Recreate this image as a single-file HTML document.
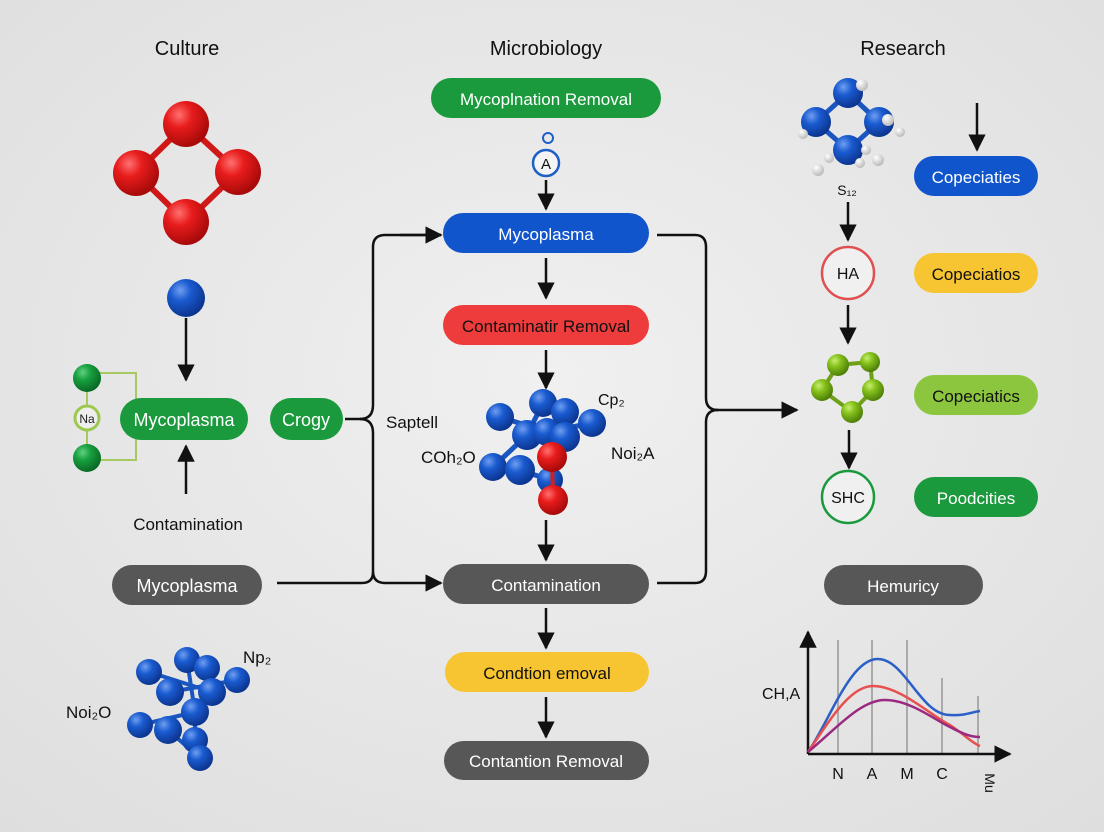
<!DOCTYPE html>
<html><head><meta charset="utf-8"><style>
html,body{margin:0;padding:0;background:#ebebeb;}
svg{display:block;}
text{font-family:"Liberation Sans","DejaVu Sans",sans-serif;}
</style></head><body>
<svg width="1104" height="832" viewBox="0 0 1104 832" xmlns="http://www.w3.org/2000/svg">
<defs>
<radialGradient id="bg" cx="50%" cy="45%" r="75%"><stop offset="0" stop-color="#f0f0f0"/><stop offset="1" stop-color="#dedede"/></radialGradient>
<radialGradient id="red" cx="35%" cy="30%" r="70%"><stop offset="0" stop-color="#ff7070"/><stop offset="0.4" stop-color="#e81c1c"/><stop offset="1" stop-color="#a80a0a"/></radialGradient>
<radialGradient id="blue" cx="35%" cy="30%" r="70%"><stop offset="0" stop-color="#6f9ef0"/><stop offset="0.4" stop-color="#1a5bd0"/><stop offset="1" stop-color="#0c3590"/></radialGradient>
<radialGradient id="green" cx="35%" cy="30%" r="70%"><stop offset="0" stop-color="#60d080"/><stop offset="0.4" stop-color="#18a040"/><stop offset="1" stop-color="#0a6a25"/></radialGradient>
<radialGradient id="lime" cx="35%" cy="30%" r="70%"><stop offset="0" stop-color="#c6ee70"/><stop offset="0.4" stop-color="#86c21c"/><stop offset="1" stop-color="#4e8008"/></radialGradient>
<radialGradient id="white" cx="35%" cy="30%" r="70%"><stop offset="0" stop-color="#fff"/><stop offset="1" stop-color="#bbb"/></radialGradient>
<marker id="ar" viewBox="0 0 10 10" refX="9" refY="5" markerWidth="7" markerHeight="7" orient="auto"><path d="M0,0 L10,5 L0,10 z" fill="#111"/></marker>
</defs>
<rect width="1104" height="832" fill="url(#bg)"/>

<g font-size="20" fill="#111" text-anchor="middle">
<text x="187" y="55">Culture</text>
<text x="546" y="55">Microbiology</text>
<text x="903" y="55">Research</text>
</g>

<!-- left red molecule -->
<g stroke="#d01818" stroke-width="6">
<line x1="186" y1="124" x2="136" y2="173"/><line x1="186" y1="124" x2="238" y2="172"/>
<line x1="136" y1="173" x2="186" y2="222"/><line x1="238" y1="172" x2="186" y2="222"/>
</g>
<circle cx="186" cy="124" r="23" fill="url(#red)"/><circle cx="136" cy="173" r="23" fill="url(#red)"/>
<circle cx="238" cy="172" r="23" fill="url(#red)"/><circle cx="186" cy="222" r="23" fill="url(#red)"/>

<circle cx="186" cy="298" r="19" fill="url(#blue)"/>
<g stroke="#111" stroke-width="2.5" fill="none">
<line x1="186" y1="318" x2="186" y2="380" marker-end="url(#ar)"/>
<line x1="186" y1="494" x2="186" y2="446" marker-end="url(#ar)"/>
</g>

<!-- green side -->
<g stroke="#a8c860" stroke-width="2" fill="none">
<polyline points="96,373 136,373 136,460 96,460"/>
<line x1="87" y1="378" x2="87" y2="458"/>
</g>
<circle cx="87" cy="378" r="14" fill="url(#green)"/>
<circle cx="87" cy="458" r="14" fill="url(#green)"/>
<circle cx="87" cy="418" r="12" fill="#eee" stroke="#9cc850" stroke-width="3"/>
<text x="87" y="423" font-size="12" text-anchor="middle" fill="#222">Na</text>

<rect x="120" y="398" width="128" height="42" rx="21" fill="#1a9a3c"/>
<text x="184" y="426" font-size="18" fill="#fff" text-anchor="middle">Mycoplasma</text>
<rect x="270" y="398" width="73" height="42" rx="21" fill="#1a9a3c"/>
<text x="306" y="426" font-size="18" fill="#fff" text-anchor="middle">Crogy</text>
<text x="188" y="530" font-size="17" fill="#111" text-anchor="middle">Contamination</text>
<rect x="112" y="565" width="150" height="40" rx="20" fill="#575757"/>
<text x="187" y="592" font-size="18" fill="#fff" text-anchor="middle">Mycoplasma</text>

<!-- left brace -->
<g stroke="#111" stroke-width="2.5" fill="none">
<path d="M441,235 L385,235 Q373,235 373,247 L373,405 Q373,419 360,419 L345,419"/>
<path d="M360,419 Q373,419 373,433 L373,571 Q373,583 385,583 L441,583" marker-end="url(#ar)"/>
<line x1="400" y1="235" x2="441" y2="235" marker-end="url(#ar)"/>
<line x1="277" y1="583" x2="362" y2="583"/>
<path d="M362,583 Q373,583 373,572"/>
</g>
<text x="386" y="428" font-size="17" fill="#111">Saptell</text>

<!-- bottom-left cluster -->
<g stroke="#1a55c0" stroke-width="4">
<line x1="149" y1="672" x2="212" y2="692"/><line x1="187" y1="660" x2="195" y2="712"/>
<line x1="237" y1="680" x2="170" y2="692"/><line x1="140" y1="725" x2="195" y2="712"/>
<line x1="168" y1="730" x2="200" y2="758"/><line x1="195" y1="740" x2="195" y2="712"/>
</g>
<g fill="url(#blue)">
<circle cx="149" cy="672" r="13"/><circle cx="187" cy="660" r="13"/><circle cx="207" cy="668" r="13"/>
<circle cx="237" cy="680" r="13"/><circle cx="170" cy="692" r="14"/><circle cx="212" cy="692" r="14"/>
<circle cx="140" cy="725" r="13"/><circle cx="168" cy="730" r="14"/><circle cx="195" cy="740" r="13"/>
<circle cx="195" cy="712" r="14"/><circle cx="200" cy="758" r="13"/>
</g>
<text x="243" y="663" font-size="17" fill="#111">Np₂</text>
<text x="66" y="718" font-size="17" fill="#111">Noi₂O</text>

<!-- center column -->
<rect x="431" y="78" width="230" height="40" rx="20" fill="#1a9a3c"/>
<text x="546" y="105" font-size="17" fill="#fff" text-anchor="middle">Mycoplnation Removal</text>
<circle cx="548" cy="138" r="5" fill="none" stroke="#1f5fc8" stroke-width="2"/>
<circle cx="546" cy="163" r="13" fill="#f4f4f4" stroke="#1f5fc8" stroke-width="2.5"/>
<text x="546" y="169" font-size="15" fill="#111" text-anchor="middle">A</text>
<rect x="443" y="213" width="206" height="40" rx="20" fill="#1155cc"/>
<text x="546" y="240" font-size="17" fill="#fff" text-anchor="middle">Mycoplasma</text>
<rect x="443" y="305" width="206" height="40" rx="20" fill="#ee3b3b"/>
<text x="546" y="332" font-size="17" fill="#111" text-anchor="middle">Contaminatir Removal</text>
<rect x="443" y="564" width="206" height="40" rx="20" fill="#575757"/>
<text x="546" y="591" font-size="17" fill="#fff" text-anchor="middle">Contamination</text>
<rect x="445" y="652" width="204" height="40" rx="20" fill="#f7c531"/>
<text x="547" y="679" font-size="17" fill="#111" text-anchor="middle">Condtion emoval</text>
<rect x="444" y="741" width="205" height="39" rx="19.5" fill="#575757"/>
<text x="546" y="767" font-size="17" fill="#fff" text-anchor="middle">Contantion Removal</text>
<g stroke="#111" stroke-width="2.5">
<line x1="546" y1="180" x2="546" y2="209" marker-end="url(#ar)"/>
<line x1="546" y1="258" x2="546" y2="298" marker-end="url(#ar)"/>
<line x1="546" y1="350" x2="546" y2="388" marker-end="url(#ar)"/>
<line x1="546" y1="520" x2="546" y2="560" marker-end="url(#ar)"/>
<line x1="546" y1="608" x2="546" y2="648" marker-end="url(#ar)"/>
<line x1="546" y1="697" x2="546" y2="737" marker-end="url(#ar)"/>
</g>

<!-- center molecule -->
<g stroke="#1a55c0" stroke-width="5">
<line x1="500" y1="417" x2="547" y2="432"/><line x1="543" y1="403" x2="527" y2="435"/>
<line x1="592" y1="423" x2="547" y2="432"/><line x1="527" y1="435" x2="493" y2="467"/>
<line x1="520" y1="470" x2="550" y2="480"/>
</g>
<g fill="url(#blue)">
<circle cx="500" cy="417" r="14"/><circle cx="543" cy="403" r="14"/><circle cx="565" cy="412" r="14"/>
<circle cx="592" cy="423" r="14"/><circle cx="527" cy="435" r="15"/><circle cx="547" cy="432" r="14"/>
<circle cx="565" cy="437" r="15"/><circle cx="493" cy="467" r="14"/><circle cx="520" cy="470" r="15"/>
<circle cx="550" cy="480" r="13"/>
</g>
<line x1="552" y1="457" x2="553" y2="500" stroke="#d02020" stroke-width="4"/>
<circle cx="552" cy="457" r="15" fill="url(#red)"/><circle cx="553" cy="500" r="15" fill="url(#red)"/>
<text x="598" y="405" font-size="16" fill="#111">Cp₂</text>
<text x="421" y="463" font-size="17" fill="#111">COh₂O</text>
<text x="611" y="459" font-size="17" fill="#111">Noi₂A</text>

<!-- right brace -->
<g stroke="#111" stroke-width="2.5" fill="none">
<path d="M657,235 L695,235 Q706,235 706,247 L706,398 Q706,410 718,410"/>
<path d="M657,583 L695,583 Q706,583 706,571 L706,422 Q706,410 718,410"/>
<line x1="716" y1="410" x2="797" y2="410" marker-end="url(#ar)"/>
</g>

<!-- right column molecules -->
<g stroke="#1a55c0" stroke-width="5">
<line x1="848" y1="93" x2="816" y2="122"/><line x1="848" y1="93" x2="879" y2="122"/>
<line x1="816" y1="122" x2="848" y2="150"/><line x1="879" y1="122" x2="848" y2="150"/>
</g>
<g fill="url(#blue)">
<circle cx="848" cy="93" r="15"/><circle cx="816" cy="122" r="15"/><circle cx="879" cy="122" r="15"/><circle cx="848" cy="150" r="15"/>
</g>
<g fill="url(#white)">
<circle cx="862" cy="85" r="6"/><circle cx="803" cy="134" r="5"/><circle cx="888" cy="120" r="6"/>
<circle cx="900" cy="132" r="5"/><circle cx="866" cy="150" r="5"/><circle cx="878" cy="160" r="6"/>
<circle cx="829" cy="158" r="5"/><circle cx="818" cy="170" r="6"/><circle cx="860" cy="163" r="5"/>
</g>
<text x="847" y="195" font-size="14" fill="#111" text-anchor="middle">S₁₂</text>
<circle cx="848" cy="273" r="26" fill="#f0f0f0" stroke="#e05050" stroke-width="2.5"/>
<text x="848" y="279" font-size="16" fill="#111" text-anchor="middle">HA</text>
<g stroke="#6ea018" stroke-width="4">
<line x1="838" y1="365" x2="870" y2="362"/><line x1="838" y1="365" x2="822" y2="390"/>
<line x1="870" y1="362" x2="873" y2="390"/><line x1="822" y1="390" x2="852" y2="412"/>
<line x1="873" y1="390" x2="852" y2="412"/>
</g>
<g fill="url(#lime)">
<circle cx="838" cy="365" r="11"/><circle cx="870" cy="362" r="10"/><circle cx="822" cy="390" r="11"/>
<circle cx="873" cy="390" r="11"/><circle cx="852" cy="412" r="11"/>
</g>
<circle cx="848" cy="497" r="26" fill="#f0f0f0" stroke="#1a9a3c" stroke-width="2.5"/>
<text x="848" y="503" font-size="16" fill="#111" text-anchor="middle">SHC</text>
<g stroke="#111" stroke-width="2.5">
<line x1="848" y1="202" x2="848" y2="240" marker-end="url(#ar)"/>
<line x1="848" y1="305" x2="848" y2="343" marker-end="url(#ar)"/>
<line x1="849" y1="430" x2="849" y2="468" marker-end="url(#ar)"/>
<line x1="977" y1="103" x2="977" y2="150" marker-end="url(#ar)"/>
</g>
<rect x="914" y="156" width="124" height="40" rx="20" fill="#1155cc"/>
<text x="976" y="183" font-size="17" fill="#fff" text-anchor="middle">Copeciaties</text>
<rect x="914" y="253" width="124" height="40" rx="20" fill="#f7c531"/>
<text x="976" y="280" font-size="17" fill="#111" text-anchor="middle">Copeciatios</text>
<rect x="914" y="375" width="124" height="40" rx="20" fill="#8cc63f"/>
<text x="976" y="402" font-size="17" fill="#111" text-anchor="middle">Copeciatics</text>
<rect x="914" y="477" width="124" height="40" rx="20" fill="#1a9a3c"/>
<text x="976" y="504" font-size="17" fill="#fff" text-anchor="middle">Poodcities</text>
<rect x="824" y="565" width="159" height="40" rx="20" fill="#575757"/>
<text x="903" y="592" font-size="17" fill="#fff" text-anchor="middle">Hemuricy</text>

<!-- chart -->
<g stroke="#aaa" stroke-width="2">
<line x1="838" y1="640" x2="838" y2="754"/><line x1="872" y1="640" x2="872" y2="754"/>
<line x1="907" y1="640" x2="907" y2="754"/><line x1="942" y1="678" x2="942" y2="754"/>
<line x1="978" y1="696" x2="978" y2="754"/>
</g>
<g stroke="#111" stroke-width="2.5" fill="none">
<line x1="808" y1="754" x2="808" y2="632" marker-end="url(#ar)"/>
<line x1="808" y1="754" x2="1010" y2="754" marker-end="url(#ar)"/>
</g>
<g fill="none" stroke-width="2.5">
<path d="M808,752 C830,720 850,660 877,659 C905,658 920,715 950,715 C965,716 972,712 980,711" stroke="#2a5fc8"/>
<path d="M808,752 C830,720 850,686 873,686 C900,686 930,715 950,725 C965,735 972,743 980,746" stroke="#e85050"/>
<path d="M808,752 C835,730 860,700 885,700 C910,700 935,720 950,727 C965,735 972,737 980,737" stroke="#9a2a80"/>
</g>
<g font-size="16" fill="#111" text-anchor="middle">
<text x="838" y="779">N</text><text x="872" y="779">A</text><text x="907" y="779">M</text><text x="942" y="779">C</text>
<text x="0" y="0" transform="translate(985,783) rotate(90)" font-size="14">Mu</text>
</g>
<text x="762" y="699" font-size="16" fill="#111">CH,A</text>
</svg>
</body></html>
